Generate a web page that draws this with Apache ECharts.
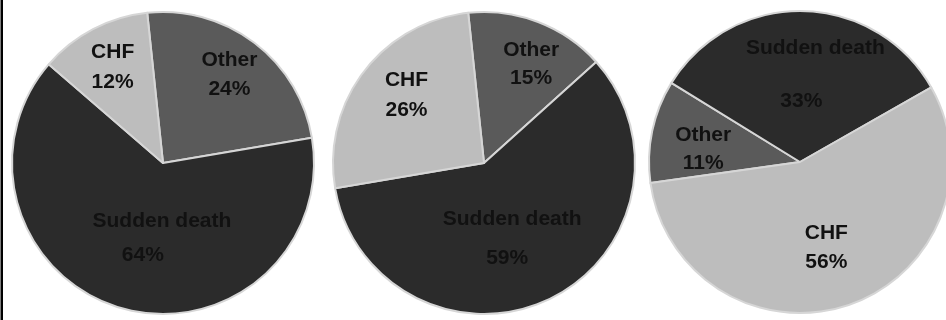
<!DOCTYPE html>
<html>
<head>
<meta charset="utf-8">
<style>
  html, body { margin: 0; padding: 0; background: #ffffff; }
  #chart { width: 946px; height: 320px; }
</style>
<script src="https://cdn.jsdelivr.net/npm/echarts@6/dist/echarts.min.js"></script>
</head>
<body>
<div id="chart"></div>
<script>
// Causes of death, three groups (percent of deaths)
const categories = ['Other', 'Sudden death', 'CHF'];
const groupA = [24, 64, 12];
const groupB = [15, 59, 26];
const groupC = [11, 33, 56];

const groups = [groupA, groupB, groupC];

// Slice shades, one per category
const sliceColors = ['#5a5a5a', '#2b2b2b', '#bdbdbd'];

// Pie placement
const pieCenters = [[163, 163], [484, 163], [800, 162]];
const pieRadius = 151;
const startAngles = [96, 96, 188];

// Label tweaks per pie and category: block shift, line gap, shift of the percent line
const labelTweaks = [
  [ { dx: 19, dy: -26, gap: 29, pct: 0 },  { dx: 20, dy: 0, gap: 34, pct: -19 },  { dx: -14, dy: -26, gap: 30, pct: 0 } ],
  [ { dx: 19, dy: -26, gap: 28, pct: 0 },  { dx: -6, dy: 5, gap: 39, pct: -5 },   { dx: -15, dy: -20, gap: 30, pct: 0 } ],
  [ { dx: -20, dy: 3, gap: 28, pct: 0 },   { dx: 14, dy: -9, gap: 53, pct: -14 }, { dx: 1, dy: 11, gap: 29, pct: 0 } ]
];

const labelFont = {
  fontFamily: '"Liberation Sans", Arial, sans-serif',
  fontSize: 21,
  fontWeight: 'bold',
  color: '#111111'
};

function buildSeries(values, gi) {
  return {
    type: 'pie',
    center: pieCenters[gi],
    radius: pieRadius,
    startAngle: startAngles[gi],
    clockwise: true,
    avoidLabelOverlap: false,
    silent: true,
    animation: false,
    labelLine: { show: false },
    itemStyle: { borderColor: '#d6d6d6', borderWidth: 2 },
    labelLayout: function (params) {
      const t = labelTweaks[gi][params.dataIndex];
      return { dx: t.dx, dy: t.dy };
    },
    data: values.map(function (v, i) {
      const t = labelTweaks[gi][i];
      const pad = t.pct < 0 ? [0, -2 * t.pct, 0, 0] : [0, 0, 0, 2 * t.pct];
      return {
        name: categories[i],
        value: v,
        itemStyle: { color: sliceColors[i] },
        label: {
          show: true,
          position: 'inside',
          formatter: '{n|{b}}\n{p|{c}%}',
          rich: {
            n: Object.assign({ lineHeight: t.gap }, labelFont),
            p: Object.assign({ lineHeight: t.gap, padding: pad }, labelFont)
          }
        }
      };
    })
  };
}

const chart = echarts.init(document.getElementById('chart'), null, { renderer: 'canvas' });
chart.setOption({
  backgroundColor: '#ffffff',
  animation: false,
  graphic: [
    {
      type: 'rect',
      left: 0.5,
      top: 0,
      shape: { width: 2.5, height: 320 },
      style: { fill: '#000000' },
      silent: true
    }
  ],
  series: groups.map(buildSeries)
});
</script>
</body>
</html>
